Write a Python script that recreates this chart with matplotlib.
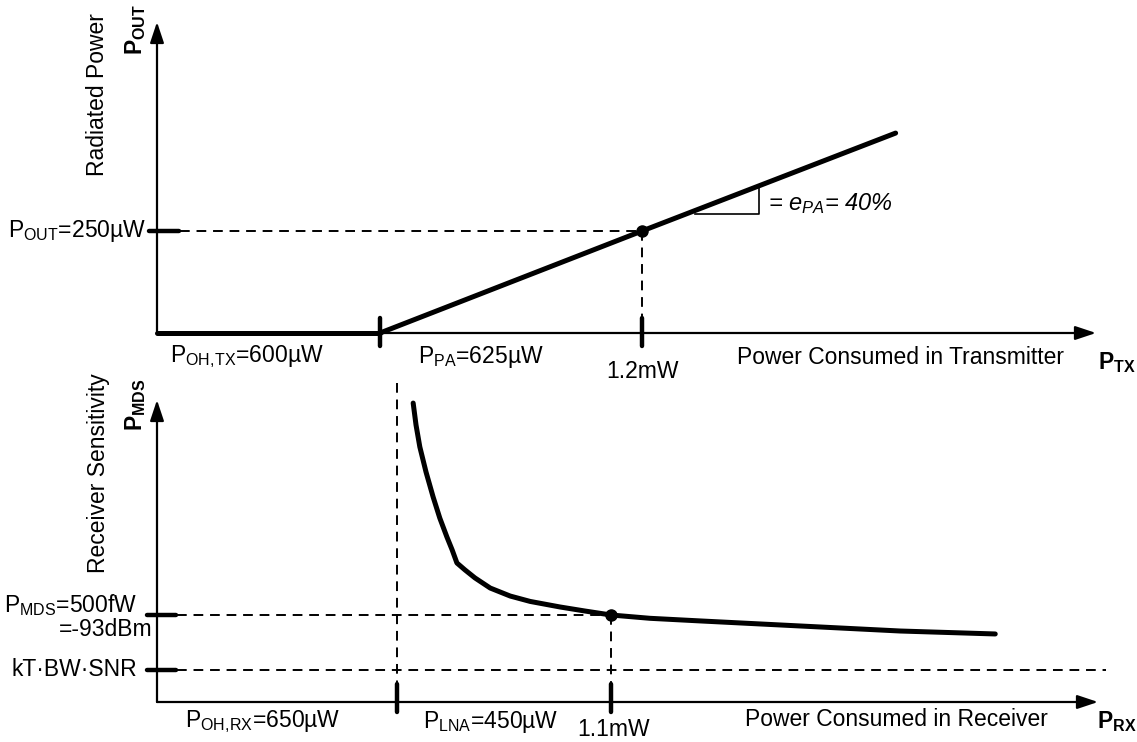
import numpy as np
import matplotlib.pyplot as plt

plt.rcParams['font.family'] = ['Liberation Sans', 'DejaVu Sans']
plt.rcParams['mathtext.fontset'] = 'custom'
plt.rcParams['mathtext.rm'] = 'Liberation Sans'
plt.rcParams['mathtext.it'] = 'Liberation Sans:italic'
plt.rcParams['mathtext.bf'] = 'Liberation Sans:bold'

W, H = 1137, 742

# transmitter: consumed power (mW) vs radiated power (uW)
tx_oh = 0.6            # overhead power
tx_op = 1.225          # operating point (600uW + 625uW)
p_out = 250            # radiated power at operating point
tx_power = [0.6, 1.225, 1.83]
tx_out = [0, 250, 490]

# receiver: consumed power (mW) vs sensitivity (fW)
rx_oh = 0.65
rx_op = 1.1
p_mds = 500
kt_floor = 185
rx_power = [0.684, 0.690, 0.698, 0.711, 0.726, 0.740, 0.755, 0.766, 0.776,
            0.793, 0.814, 0.846, 0.888, 0.930, 0.993, 1.045, 1.10,
            1.182, 1.287, 1.497, 1.708, 1.908]
rx_mds = [1718, 1592, 1466, 1322, 1178, 1057, 948, 874, 799,
          759, 713, 655, 609, 578, 546, 523, 500,
          481, 466, 437, 408, 391]

FS = 16.5
DASH = dict(color='black', lw=1.4, ls=(0, (5, 3.5)))


def calibrate(ax, xs, cols, ys, rows):
    # map two data values on each axis onto pixel columns / rows
    kx = (cols[1] - cols[0]) / (xs[1] - xs[0])
    ky = (rows[0] - rows[1]) / (ys[1] - ys[0])
    ax.set_xlim(xs[0] - cols[0] / kx, xs[0] + (W - cols[0]) / kx)
    ax.set_ylim(ys[0] - (H - rows[0]) / ky, ys[0] + rows[0] / ky)
    ax.axis('off')
    ax.patch.set_visible(False)
    return kx, ky


def arrow(ax, start, end):
    ax.annotate('', xy=end, xytext=start,
                arrowprops=dict(arrowstyle='-|>,head_length=0.9,head_width=0.3',
                                lw=1.6, color='black', shrinkA=0, shrinkB=0,
                                mutation_scale=14))


def label(ax, s, xy, off, **kw):
    kw.setdefault('fontsize', FS)
    ax.annotate(s, xy=xy, xytext=off, textcoords='offset pixels', **kw)


fig = plt.figure(figsize=(W / 100, H / 100), dpi=100)

# ---------------- transmitter panel ----------------
ax = fig.add_axes([0, 0, 1, 1])
kx, ky = calibrate(ax, (tx_oh, tx_op), (380, 642), (0, p_out), (333, 231))
x0 = tx_oh - (380 - 157) / kx
x_end = tx_oh + (1096 - 380) / kx
y_top = (333 - 22) / ky

arrow(ax, (x0, 0), (x_end, 0))
arrow(ax, (x0, 0), (x0, y_top))

ax.plot([x0, tx_oh], [0, 0], color='black', lw=3.6, solid_capstyle='round')
ax.plot(tx_power, tx_out, color='black', lw=3.6, solid_capstyle='round')
ax.plot([tx_op], [p_out], 'o', color='black', ms=8)

# dashed guides
ax.plot([x0 + 23 / kx, tx_op], [p_out, p_out], **DASH)
ax.plot([tx_op, tx_op], [p_out, 0], **DASH)

# ticks
for xv in (tx_oh, tx_op):
    ax.plot([xv, xv], [-13 / ky, 15 / ky], color='black', lw=3.2, solid_capstyle='round')
ax.plot([x0 - 8 / kx, x0 + 22 / kx], [p_out, p_out], color='black', lw=3.2,
        solid_capstyle='round')

# slope triangle
tx1, tx2 = tx_oh + (695 - 380) / kx, tx_oh + (759 - 380) / kx
ty1, ty2 = np.interp([tx1, tx2], tx_power, tx_out)
ax.plot([tx1, tx2, tx2], [ty1 - 8, ty1 - 8, ty2], color='black', lw=1.2)
label(ax, r'= $e_{PA}$= 40%', (tx2, ty1 - 8), (9, 10), style='italic',
      ha='left', va='center', fontsize=17)

label(ax, r'$\mathregular{P_{OUT}}$=250µW', (x0, p_out), (-11, 0), ha='right', va='center')
label(ax, r'$\mathregular{P_{OH,\!TX}}$=600µW', (x0, 0), (13, -24), ha='left', va='center')
label(ax, r'$\mathregular{P_{PA}}$=625µW', (tx_oh, 0), (38, -24), ha='left', va='center')
label(ax, '1.2mW', (tx_op, 0), (0, -39), ha='center', va='center')
label(ax, 'Power Consumed in Transmitter', (x_end, 0), (-359, -24), ha='left', va='center')
label(ax, r'$\mathbf{P_{TX}}$', (x_end, 0), (2, -30), ha='left', va='center')
label(ax, 'Radiated Power', (x0, y_top), (-59, -73), ha='center', va='center', rotation=90)
label(ax, r'$\mathbf{P_{OUT}}$', (x0, y_top), (-21, -7), ha='center', va='center', rotation=90)

# ---------------- receiver panel ----------------
ax = fig.add_axes([0, 0, 1, 1])
kx, ky = calibrate(ax, (rx_oh, rx_op), (397, 611), (0, p_mds), (702, 615))
x0 = rx_oh - (397 - 157) / kx
x_end = rx_oh + (1098 - 397) / kx
y_top = (702 - 400) / ky

arrow(ax, (x0, 0), (x_end, 0))
arrow(ax, (x0, 0), (x0, y_top))

ax.plot(rx_power, rx_mds, color='black', lw=3.6, solid_capstyle='round',
        solid_joinstyle='round')
ax.plot([rx_op], [p_mds], 'o', color='black', ms=8)

ax.plot([x0 + 20 / kx, rx_op], [p_mds, p_mds], **DASH)
ax.plot([x0 + 20 / kx, rx_oh + (1106 - 397) / kx], [kt_floor, kt_floor], **DASH)
ax.plot([rx_oh, rx_oh], [(702 - 383) / ky, 0], **DASH)
ax.plot([rx_op, rx_op], [p_mds, 0], **DASH)

for xv in (rx_oh, rx_op):
    ax.plot([xv, xv], [-10 / ky, 18 / ky], color='black', lw=3.2, solid_capstyle='round')
for yv in (p_mds, kt_floor):
    ax.plot([x0 - 10 / kx, x0 + 19 / kx], [yv, yv], color='black', lw=3.2,
            solid_capstyle='round')

label(ax, r'$\mathregular{P_{MDS}}$=500fW', (x0, p_mds), (-20, 10), ha='right', va='center')
label(ax, '=-93dBm', (x0, p_mds), (-4, -14), ha='right', va='center')
label(ax, 'kT·BW·SNR', (x0, kt_floor), (-20, 0), ha='right', va='center')
label(ax, r'$\mathregular{P_{OH,\!RX}}$=650µW', (x0, 0), (28, -20), ha='left', va='center')
label(ax, r'$\mathregular{P_{LNA}}$=450µW', (rx_oh, 0), (26, -20), ha='left', va='center')
label(ax, '1.1mW', (rx_op, 0), (3, -27), ha='center', va='center')
label(ax, 'Power Consumed in Receiver', (x_end, 0), (-353, -17), ha='left', va='center')
label(ax, r'$\mathbf{P_{RX}}$', (x_end, 0), (-1, -20), ha='left', va='center')
label(ax, 'Receiver Sensitivity', (x0, y_top), (-58, -73), ha='center', va='center', rotation=90)
label(ax, r'$\mathbf{P_{MDS}}$', (x0, y_top), (-21, -5), ha='center', va='center', rotation=90)

fig.savefig('out.png', dpi=100)
